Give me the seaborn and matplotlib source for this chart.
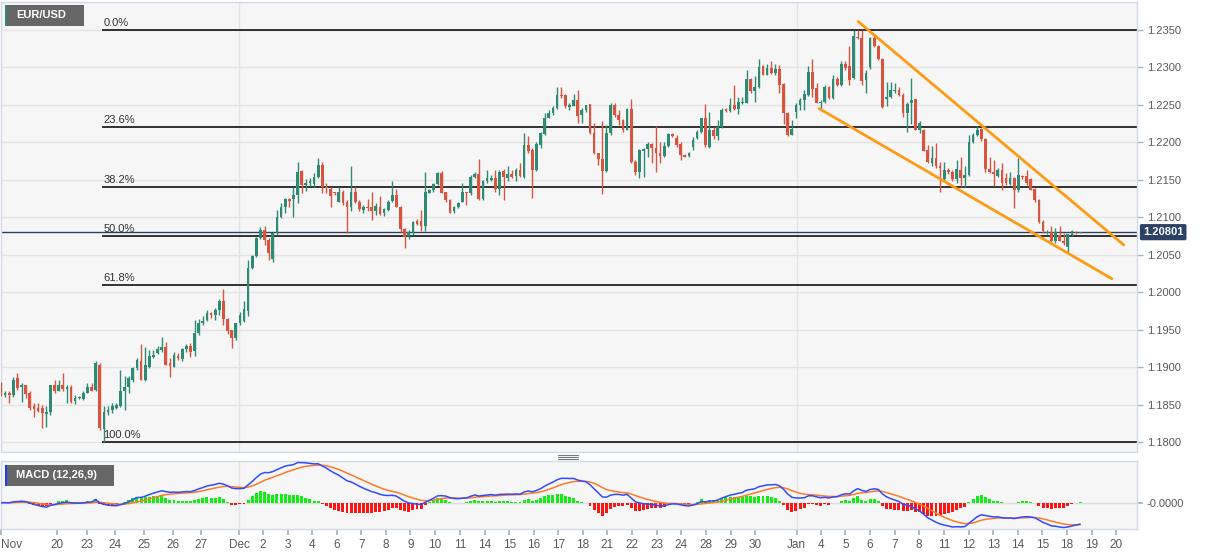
import numpy as np
import pandas as pd
import matplotlib
matplotlib.use("Agg")
import matplotlib.pyplot as plt
import seaborn as sns
from matplotlib.patches import Rectangle
from matplotlib.lines import Line2D

sns.set_theme(style="white")
plt.rcParams['font.family'] = ['Liberation Sans', 'DejaVu Sans']

# ---------------- data (EUR/USD, 4-hour candles) ----------------
opens = [
1.1877,1.1863,1.1866,1.1863,1.1886,1.1874,1.1877,1.1865,1.1848,1.1846,
1.1846,1.1838,1.1840,1.1877,1.1868,1.1877,1.1871,1.1874,1.1855,1.1859,
1.1858,1.1866,1.1874,1.1870,1.1903,1.1818,1.1841,1.1843,1.1846,1.1849,
1.1868,1.1874,1.1883,1.1899,1.1909,1.1883,1.1901,1.1914,1.1919,1.1923,
1.1927,1.1906,1.1901,1.1915,1.1911,1.1924,1.1929,1.1922,1.1946,1.1959,
1.1963,1.1973,1.1970,1.1976,1.1988,1.1964,1.1949,1.1939,1.1959,1.1962,
1.1975,1.2032,1.2048,1.2072,1.2083,1.2070,1.2045,1.2079,1.2101,1.2114,
1.2124,1.2124,1.2130,1.2162,1.2143,1.2146,1.2145,1.2154,1.2170,1.2141,
1.2138,1.2133,1.2121,1.2134,1.2121,1.2114,1.2133,1.2121,1.2110,1.2114,
1.2114,1.2108,1.2114,1.2106,1.2110,1.2122,1.2130,1.2114,1.2084,1.2075,
1.2079,1.2095,1.2095,1.2089,1.2133,1.2136,1.2145,1.2159,1.2133,1.2123,
1.2108,1.2114,1.2121,1.2134,1.2132,1.2154,1.2157,1.2124,1.2148,1.2150,
1.2152,1.2138,1.2162,1.2153,1.2158,1.2155,1.2163,1.2154,1.2197,1.2189,
1.2163,1.2197,1.2211,1.2233,1.2239,1.2246,1.2263,1.2263,1.2247,1.2249,
1.2257,1.2237,1.2243,1.2251,1.2212,1.2186,1.2178,1.2162,1.2212,1.2250,
1.2237,1.2230,1.2217,1.2244,1.2174,1.2161,1.2189,1.2191,1.2198,1.2192,
1.2186,1.2182,1.2195,1.2211,1.2206,1.2197,1.2183,1.2182,1.2194,1.2206,
1.2214,1.2232,1.2194,1.2217,1.2208,1.2220,1.2244,1.2242,1.2249,1.2244,
1.2252,1.2253,1.2284,1.2268,1.2274,1.2301,1.2290,1.2299,1.2292,1.2298,
1.2277,1.2239,1.2210,1.2240,1.2250,1.2256,1.2263,1.2294,1.2272,1.2252,
1.2254,1.2274,1.2259,1.2284,1.2277,1.2305,1.2301,1.2286,1.2341,1.2339,
1.2283,1.2300,1.2339,1.2328,1.2311,1.2258,1.2260,1.2268,1.2270,1.2263,
1.2239,1.2252,1.2257,1.2217,1.2217,1.2189,1.2173,1.2179,1.2168,1.2151,
1.2163,1.2161,1.2151,1.2163,1.2152,1.2157,1.2200,1.2210,1.2217,1.2204,
1.2164,1.2161,1.2155,1.2163,1.2152,1.2145,1.2152,1.2136,1.2155,1.2155,
1.2151,1.2137,1.2123,1.2094,1.2079,1.2081,1.2068,1.2077,1.2068,1.2061,
1.2077,1.2081,1.2079]

highs = [
1.1880,1.1868,1.1868,1.1887,1.1892,1.1879,1.1877,1.1868,1.1852,1.1852,
1.1850,1.1848,1.1877,1.1883,1.1883,1.1892,1.1877,1.1877,1.1863,1.1862,
1.1868,1.1879,1.1879,1.1908,1.1906,1.1848,1.1849,1.1852,1.1852,1.1897,
1.1888,1.1888,1.1901,1.1912,1.1931,1.1927,1.1923,1.1923,1.1929,1.1941,
1.1934,1.1912,1.1921,1.1919,1.1926,1.1931,1.1933,1.1963,1.1964,1.1968,
1.1976,1.1974,1.1979,1.1991,1.2004,1.1966,1.1950,1.1959,1.1974,1.1988,
1.2043,1.2050,1.2074,1.2087,1.2089,1.2072,1.2081,1.2110,1.2119,1.2126,
1.2126,1.2141,1.2174,1.2163,1.2151,1.2152,1.2159,1.2179,1.2174,1.2146,
1.2141,1.2134,1.2141,1.2137,1.2123,1.2168,1.2141,1.2123,1.2117,1.2124,
1.2134,1.2119,1.2128,1.2112,1.2123,1.2148,1.2138,1.2115,1.2086,1.2083,
1.2095,1.2098,1.2110,1.2160,1.2138,1.2146,1.2160,1.2162,1.2134,1.2124,
1.2115,1.2120,1.2146,1.2134,1.2157,1.2161,1.2178,1.2150,1.2163,1.2156,
1.2163,1.2163,1.2164,1.2168,1.2163,1.2166,1.2172,1.2213,1.2208,1.2192,
1.2201,1.2214,1.2239,1.2243,1.2249,1.2274,1.2274,1.2265,1.2252,1.2265,
1.2269,1.2246,1.2250,1.2251,1.2226,1.2186,1.2228,1.2223,1.2253,1.2252,
1.2243,1.2231,1.2246,1.2258,1.2177,1.2191,1.2193,1.2201,1.2199,1.2222,
1.2201,1.2201,1.2213,1.2212,1.2210,1.2201,1.2185,1.2187,1.2207,1.2217,
1.2233,1.2251,1.2241,1.2221,1.2230,1.2246,1.2246,1.2259,1.2277,1.2260,
1.2260,1.2297,1.2286,1.2288,1.2311,1.2303,1.2305,1.2308,1.2305,1.2303,
1.2279,1.2240,1.2230,1.2252,1.2259,1.2270,1.2302,1.2311,1.2279,1.2257,
1.2277,1.2275,1.2289,1.2287,1.2308,1.2308,1.2328,1.2349,1.2350,1.2349,
1.2297,1.2340,1.2343,1.2330,1.2312,1.2281,1.2280,1.2279,1.2274,1.2266,
1.2254,1.2286,1.2258,1.2228,1.2218,1.2197,1.2195,1.2199,1.2174,1.2174,
1.2166,1.2163,1.2177,1.2180,1.2168,1.2210,1.2213,1.2222,1.2219,1.2206,
1.2181,1.2177,1.2166,1.2173,1.2159,1.2161,1.2154,1.2179,1.2157,1.2163,
1.2152,1.2139,1.2124,1.2097,1.2083,1.2088,1.2086,1.2088,1.2079,1.2078,
1.2083,1.2082,1.2081]

lows = [
1.1862,1.1861,1.1852,1.1861,1.1870,1.1854,1.1859,1.1843,1.1834,1.1841,
1.1819,1.1821,1.1837,1.1866,1.1868,1.1868,1.1852,1.1852,1.1851,1.1858,
1.1856,1.1866,1.1868,1.1869,1.1817,1.1800,1.1837,1.1839,1.1844,1.1847,
1.1843,1.1866,1.1881,1.1897,1.1883,1.1882,1.1899,1.1912,1.1918,1.1921,
1.1903,1.1887,1.1900,1.1910,1.1909,1.1920,1.1914,1.1915,1.1943,1.1957,
1.1962,1.1966,1.1963,1.1970,1.1957,1.1945,1.1926,1.1936,1.1957,1.1960,
1.1968,1.2031,1.2047,1.2071,1.2063,1.2043,1.2040,1.2077,1.2099,1.2106,
1.2114,1.2101,1.2119,1.2133,1.2135,1.2142,1.2141,1.2152,1.2132,1.2132,
1.2114,1.2130,1.2120,1.2117,1.2079,1.2108,1.2119,1.2108,1.2106,1.2108,
1.2097,1.2103,1.2103,1.2102,1.2108,1.2120,1.2114,1.2080,1.2059,1.2071,
1.2077,1.2090,1.2082,1.2082,1.2132,1.2134,1.2143,1.2132,1.2120,1.2106,
1.2106,1.2112,1.2120,1.2117,1.2130,1.2152,1.2123,1.2123,1.2146,1.2149,
1.2134,1.2130,1.2123,1.2148,1.2152,1.2148,1.2154,1.2153,1.2186,1.2126,
1.2162,1.2192,1.2210,1.2232,1.2237,1.2244,1.2259,1.2246,1.2243,1.2248,
1.2226,1.2226,1.2241,1.2211,1.2185,1.2170,1.2131,1.2161,1.2210,1.2234,
1.2223,1.2214,1.2217,1.2173,1.2157,1.2153,1.2154,1.2181,1.2172,1.2161,
1.2172,1.2181,1.2194,1.2207,1.2194,1.2177,1.2180,1.2181,1.2190,1.2204,
1.2213,1.2194,1.2192,1.2204,1.2203,1.2219,1.2241,1.2240,1.2243,1.2238,
1.2251,1.2252,1.2266,1.2254,1.2272,1.2289,1.2289,1.2291,1.2290,1.2266,
1.2225,1.2209,1.2210,1.2232,1.2243,1.2243,1.2262,1.2260,1.2252,1.2243,
1.2252,1.2258,1.2258,1.2275,1.2275,1.2297,1.2277,1.2284,1.2338,1.2277,
1.2266,1.2298,1.2327,1.2310,1.2246,1.2248,1.2259,1.2266,1.2262,1.2234,
1.2214,1.2225,1.2216,1.2212,1.2188,1.2172,1.2169,1.2166,1.2134,1.2148,
1.2158,1.2149,1.2146,1.2141,1.2141,1.2155,1.2199,1.2208,1.2202,1.2161,
1.2159,1.2142,1.2154,1.2137,1.2143,1.2143,1.2112,1.2134,1.2151,1.2143,
1.2136,1.2121,1.2093,1.2079,1.2078,1.2066,1.2066,1.2068,1.2063,1.2054,
1.2075,1.2078,1.2079]

closes = [
1.1866,1.1866,1.1863,1.1883,1.1872,1.1877,1.1865,1.1846,1.1844,1.1842,
1.1839,1.1841,1.1877,1.1868,1.1877,1.1871,1.1874,1.1854,1.1859,1.1860,
1.1866,1.1874,1.1868,1.1906,1.1819,1.1841,1.1843,1.1848,1.1850,1.1868,
1.1874,1.1886,1.1899,1.1909,1.1883,1.1903,1.1915,1.1917,1.1924,1.1927,
1.1903,1.1902,1.1917,1.1912,1.1924,1.1928,1.1921,1.1946,1.1959,1.1962,
1.1973,1.1970,1.1976,1.1988,1.1964,1.1948,1.1939,1.1959,1.1970,1.1978,
1.2032,1.2048,1.2072,1.2083,1.2070,1.2052,1.2079,1.2101,1.2114,1.2124,
1.2122,1.2130,1.2161,1.2143,1.2146,1.2148,1.2154,1.2170,1.2141,1.2139,
1.2128,1.2132,1.2134,1.2119,1.2114,1.2134,1.2121,1.2111,1.2114,1.2113,
1.2108,1.2115,1.2105,1.2111,1.2121,1.2129,1.2114,1.2084,1.2074,1.2080,
1.2094,1.2091,1.2089,1.2134,1.2136,1.2145,1.2159,1.2133,1.2123,1.2106,
1.2114,1.2119,1.2134,1.2132,1.2154,1.2158,1.2124,1.2148,1.2152,1.2153,
1.2138,1.2161,1.2154,1.2158,1.2154,1.2163,1.2155,1.2197,1.2188,1.2163,
1.2198,1.2212,1.2233,1.2239,1.2246,1.2263,1.2262,1.2248,1.2249,1.2257,
1.2235,1.2243,1.2249,1.2212,1.2186,1.2178,1.2162,1.2212,1.2250,1.2237,
1.2230,1.2217,1.2244,1.2174,1.2161,1.2189,1.2191,1.2198,1.2192,1.2186,
1.2182,1.2195,1.2211,1.2208,1.2197,1.2183,1.2181,1.2186,1.2203,1.2214,
1.2232,1.2197,1.2217,1.2209,1.2221,1.2243,1.2242,1.2250,1.2244,1.2253,
1.2254,1.2284,1.2268,1.2274,1.2301,1.2290,1.2299,1.2292,1.2298,1.2277,
1.2239,1.2210,1.2218,1.2250,1.2257,1.2265,1.2294,1.2271,1.2253,1.2254,
1.2274,1.2259,1.2284,1.2277,1.2305,1.2299,1.2283,1.2341,1.2339,1.2282,
1.2292,1.2339,1.2328,1.2311,1.2247,1.2260,1.2269,1.2270,1.2263,1.2239,
1.2251,1.2257,1.2217,1.2226,1.2189,1.2174,1.2179,1.2168,1.2166,1.2163,
1.2161,1.2151,1.2164,1.2152,1.2157,1.2200,1.2210,1.2217,1.2204,1.2164,
1.2160,1.2158,1.2163,1.2146,1.2146,1.2152,1.2137,1.2157,1.2154,1.2146,
1.2137,1.2123,1.2094,1.2082,1.2081,1.2068,1.2081,1.2069,1.2066,1.2077,
1.2082,1.2079,1.20801]

# Fibonacci retracement (swing high / swing low)
fib_high = 1.2350
fib_low = 1.1800
fib_ratios = [0.0, 0.236, 0.382, 0.500, 0.618, 1.000]
fib_labels = ["0.0%", "23.6%", "38.2%", "50.0%", "61.8%", "100.0%"]

# Falling-wedge trend lines (candle index, price)
trend_upper_idx = [208.1, 272.6]
trend_upper_px = [1.2361, 1.2063]
trend_lower_idx = [198.6, 269.7]
trend_lower_px = [1.2245, 1.2018]

# x-axis date labels (candle index where shown)
tick_lbl = ['Nov', '20', '23', '24', '25', '26', '27', 'Dec', '2', '3', '4', '6', '7', '8',
            '9', '10', '11', '14', '15', '16', '17', '18', '21', '22', '23', '24', '28',
            '29', '30', 'Jan', '4', '5', '6', '7', '8', '11', '12', '13', '14', '15', '18',
            '19', '20']
tick_pos = [0, 13.7, 20.8, 27.7, 34.7, 41.7, 48.5, 57.8, 63.6, 69.6, 75.6, 81.6, 87.5, 93.5,
            99.4, 105.4, 111.5, 117.4, 123.4, 129.4, 135.3, 141.3, 147.2, 153.2, 159.2, 165.1,
            171.2, 177.2, 183.1, 193.2, 199.1, 205.0, 211.0, 217.0, 222.9, 228.9, 234.9, 240.9,
            246.8, 252.8, 258.7, 264.8, 270.8]
price_ticks = [1.1800, 1.1850, 1.1900, 1.1950, 1.2000, 1.2050, 1.2100, 1.2150,
               1.2200, 1.2250, 1.2300, 1.2350]

# ---------------- derived ----------------
o = np.array(opens); h = np.array(highs); l = np.array(lows); c = np.array(closes)
n = len(c)
idx = np.arange(n)
cs = pd.Series(c)
ema12 = cs.ewm(span=12, adjust=False).mean()
ema26 = cs.ewm(span=26, adjust=False).mean()
macd = (ema12 - ema26).values
signal = pd.Series(macd).ewm(span=9, adjust=False).mean().values
hist = macd - signal

GREEN = '#2e8a72'
RED = '#d9543f'
BG = '#f6f6f6'
GRID = '#e4e4e4'
SPINE = '#d3d9e6'
TXT = '#5a5a5a'

W, H = 1207, 555
fig = plt.figure(figsize=(W / 100, H / 100), dpi=100)
fig.patch.set_facecolor('white')

def fx(px):
    return px / W

def fy(py):
    return 1 - py / H

ax = fig.add_axes([fx(1), fy(452), fx(1136), (452 - 2) / H])
axm = fig.add_axes([fx(1), fy(529), fx(1136), (529 - 461) / H], sharex=ax)

xmin, xmax = 0.07, 275.8
for a in (ax, axm):
    a.set_facecolor(BG)
    for s in a.spines.values():
        s.set_color(SPINE)
        s.set_linewidth(1)
    a.set_xlim(xmin, xmax)

month_pos = [tick_pos[tick_lbl.index('Dec')], tick_pos[tick_lbl.index('Jan')]]

# ---- main panel ----
ax.set_ylim(1.1787, 1.2387)
for p in price_ticks:
    ax.axhline(p, color=GRID, lw=1, zorder=0)
for m in month_pos:
    ax.axvline(m, color=GRID, lw=1, zorder=0)
    axm.axvline(m, color=GRID, lw=1, zorder=0)

# fibonacci levels
fib_start = int(np.argmin(l)) - 0.4
for r, lab in zip(fib_ratios, fib_labels):
    lvl = fib_high - r * (fib_high - fib_low)
    ax.hlines(lvl, fib_start, xmax, color='#111111', lw=1.2, zorder=2)
    ax.text(fib_start + 0.2, lvl + 0.00025, lab, fontsize=8, color='#333333',
            ha='left', va='bottom', zorder=6)

# current price line
ax.axhline(c[-1], color='#2c4166', lw=1, zorder=2.5)

# candles
up = c >= o
cols = np.where(up, GREEN, RED)
ax.vlines(idx, l, h, colors=cols, lw=1, zorder=3)
body = np.maximum(np.abs(c - o), 0.00012)
ax.bar(idx, body, bottom=np.minimum(o, c), width=0.66, color=cols, linewidth=0, zorder=4)

# trend lines
sns.lineplot(x=trend_upper_idx, y=trend_upper_px, ax=ax, color='#ff9a14', lw=2, zorder=5)
sns.lineplot(x=trend_lower_idx, y=trend_lower_px, ax=ax, color='#ff9a14', lw=2, zorder=5)

ax.yaxis.tick_right()
ax.set_yticks(price_ticks)
ax.set_yticklabels([f"{p:.4f}" for p in price_ticks])
ax.tick_params(axis='y', right=True, length=4, width=1, color='#a8b0c2', labelsize=8,
               labelcolor=TXT, pad=3)
ax.tick_params(axis='x', bottom=False, labelbottom=False)
ax.set_xlabel(''); ax.set_ylabel('')

# price label on the axis
ax.text(1.0 + 6 / 1136, c[-1], f"{c[-1]:.5f}", transform=ax.get_yaxis_transform(),
        ha='left', va='center', fontsize=8, fontweight='bold', color='white', zorder=10,
        bbox=dict(boxstyle='round,pad=0.28,rounding_size=0.15', fc='#2c4166', ec='none'),
        clip_on=False)

# ---- MACD panel ----
hcols = np.where(hist >= 0, '#11ee11', '#ff1414')
axm.bar(idx, 1.4 * hist, width=0.72, color=hcols, linewidth=0, zorder=2)
axm.axhline(0, color='#dddddd', lw=1, zorder=1)
sns.lineplot(x=idx, y=macd, ax=axm, color='#2f4cff', lw=1.1, zorder=4)
sns.lineplot(x=idx, y=signal, ax=axm, color='#ff7b25', lw=1.1, zorder=3)
top = max(macd.max(), signal.max()) * 1.04
bot = min(-top * 26 / 42, min(macd.min(), signal.min()) * 1.06)
axm.set_ylim(bot, top)
axm.yaxis.tick_right()
axm.set_yticks([0])
axm.set_yticklabels(['-0.0000'])
axm.tick_params(axis='y', right=True, length=4, color='#a8b0c2', labelsize=8, labelcolor=TXT, pad=3)
axm.set_xticks(tick_pos)
axm.set_xticklabels(tick_lbl)
axm.tick_params(axis='x', bottom=True, length=4, color='#a8b0c2', labelsize=8.5,
                labelcolor=TXT, pad=3)
axm.get_xticklabels()[0].set_ha('left')
axm.set_xlabel(''); axm.set_ylabel('')

# ---- title boxes ----
fig.add_artist(Rectangle((fx(5), fy(26)), fx(79), 21 / H, transform=fig.transFigure,
                         fc='#666666', ec='none'))
fig.add_artist(Rectangle((fx(5), fy(26)), fx(2), 21 / H, transform=fig.transFigure,
                         fc='#2e8a72', ec='none'))
fig.text(fx(16), fy(15.5), "EUR/USD", fontsize=8, fontweight='bold', color='white',
         ha='left', va='center')
fig.add_artist(Rectangle((fx(5), fy(486)), fx(109), 21 / H, transform=fig.transFigure,
                         fc='#666666', ec='none'))
fig.add_artist(Rectangle((fx(5), fy(486)), fx(2), 21 / H, transform=fig.transFigure,
                         fc='#1a3cff', ec='none'))
fig.text(fx(16), fy(475.5), "MACD (12,26,9)", fontsize=8, fontweight='bold', color='white',
         ha='left', va='center')

# panel resize handle
for yy in (454.5, 456.5, 458.5):
    fig.add_artist(Line2D([fx(558), fx(578)], [fy(yy), fy(yy)], transform=fig.transFigure,
                          color='#777777', lw=0.8))

fig.savefig('out.png', dpi=100, facecolor='white')
